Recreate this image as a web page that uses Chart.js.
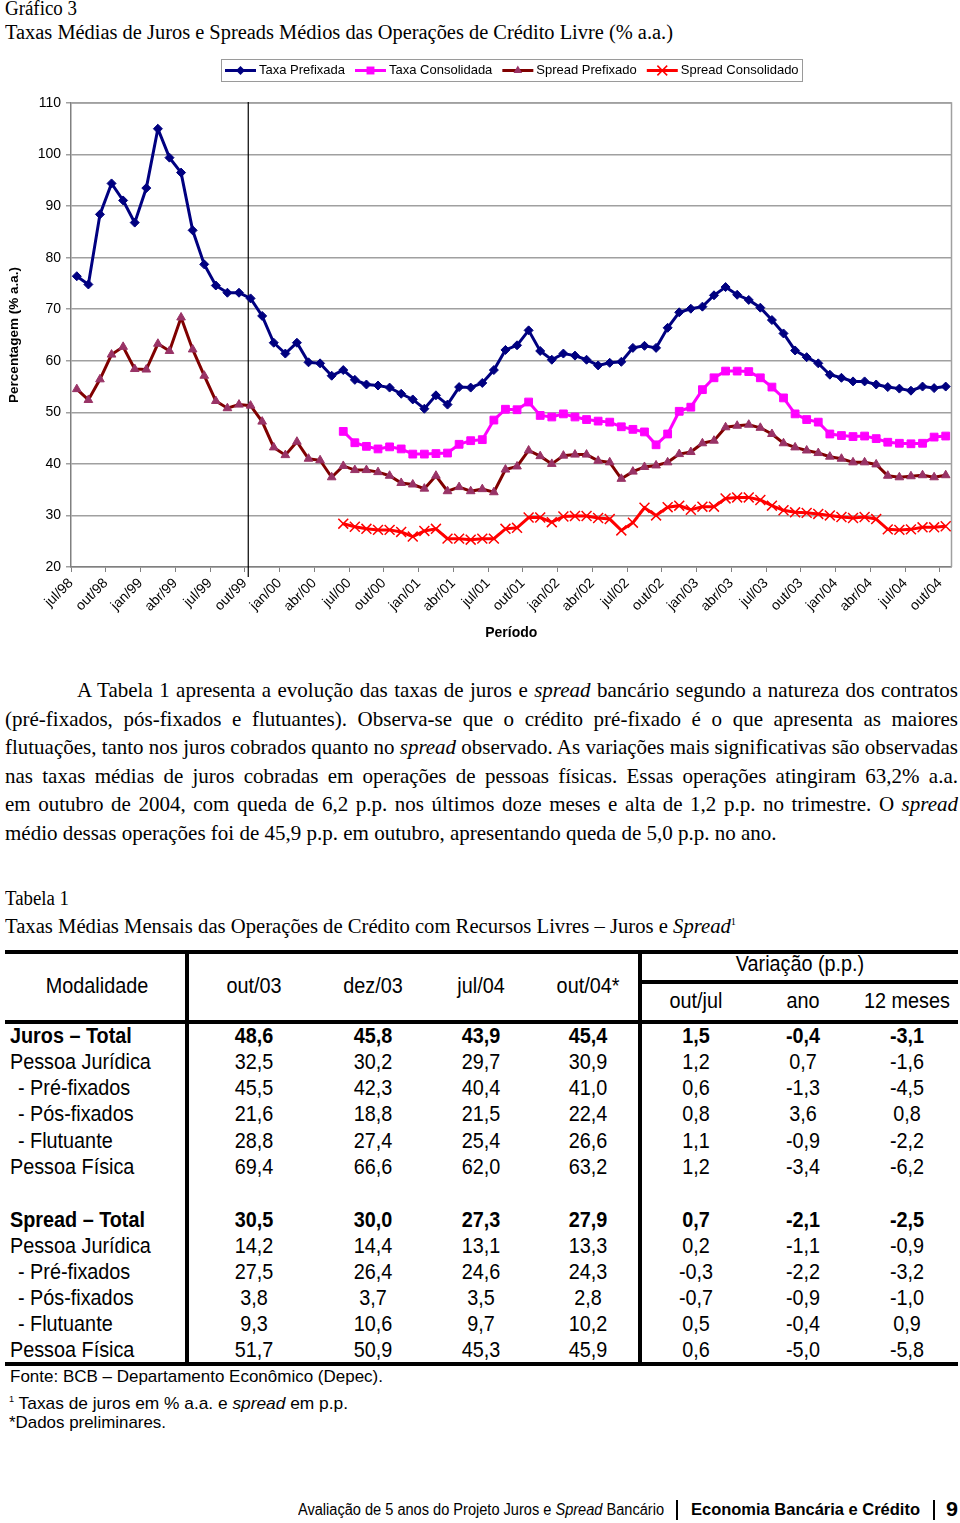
<!DOCTYPE html>
<html><head><meta charset="utf-8">
<script src="https://cdn.jsdelivr.net/npm/chart.js@4"></script>
<style>
body{margin:0;background:#fff;}
#page{position:relative;width:960px;height:1523px;overflow:hidden;font-family:"Liberation Sans",Arial,sans-serif;color:#000;background:#fff}
.t{position:absolute;white-space:nowrap;line-height:24px;height:24px;}
.fit{transform-origin:0 50%;}
.serif{font-family:"Liberation Serif","Times New Roman",serif;}
.ln{position:absolute;background:#000;}
.c{transform:translateX(-50%) scaleX(0.9);text-align:center;}
.l{transform:scaleX(0.9);transform-origin:0 50%;}
.b{font-weight:bold;}
#chartWrap{position:absolute;left:0;top:40px;width:960px;height:620px;}
.jl{position:absolute;white-space:nowrap;font-family:"Liberation Serif","Times New Roman",serif;font-size:21px;line-height:24px;transform-origin:0 50%;}
</style>
</head><body><div id="page">

<div class="t serif fit" data-w="72" style="left:5px;top:-4px;font-size:20px;">Gráfico 3</div>
<div class="t serif fit" data-w="668" style="left:5px;top:20px;font-size:20px;">Taxas Médias de Juros e Spreads Médios das Operações de Crédito Livre (% a.a.)</div>

<div id="chartWrap"><canvas id="c" width="960" height="620"></canvas></div>

<div class="t serif fit" data-w="64" style="left:5px;top:886px;font-size:20px;">Tabela 1</div>
<div class="t serif fit" data-w="731" style="left:5px;top:910px;font-size:20px;">Taxas Médias Mensais das Operações de Crédito com Recursos Livres – Juros e <i>Spread</i><sup style="font-size:10px;">1</sup></div>

<div class="t fit" data-w="373" style="left:10px;top:1365px;font-size:17px;">Fonte: BCB – Departamento Econômico (Depec).</div>
<div class="t fit" data-w="339" style="left:9px;top:1387px;font-size:17px;"><sup style="font-size:9px;">1</sup> Taxas de juros em % a.a. e <i>spread</i> em p.p.</div>
<div class="t fit" data-w="157" style="left:9px;top:1411px;font-size:17px;">*Dados preliminares.</div>

<div class="t fit" data-w="366" style="left:298px;top:1498px;font-size:16px;">Avaliação de 5 anos do Projeto Juros e <i>Spread</i> Bancário</div>
<div class="ln" style="left:676px;top:1500px;width:1.5px;height:20px;"></div>
<div class="t fit b" data-w="229" style="left:691px;top:1498px;font-size:16px;">Economia Bancária e Crédito</div>
<div class="ln" style="left:933px;top:1500px;width:1.5px;height:20px;"></div>
<div class="t fit b" data-w="12" style="left:946px;top:1497px;font-size:21px;">9</div>

</div>
<script>
// ---------------- DATA ----------------
const tickLabels = ['jul/98','out/98','jan/99','abr/99','jul/99','out/99','jan/00','abr/00','jul/00','out/00','jan/01','abr/01','jul/01','out/01','jan/02','abr/02','jul/02','out/02','jan/03','abr/03','jul/03','out/03','jan/04','abr/04','jul/04','out/04'];

const taxaPrefixada = [76.4,74.8,88.4,94.4,91.1,86.8,93.5,105.0,99.4,96.5,85.3,78.7,
  74.6,73.2,73.2,72.1,68.7,63.5,61.4,63.5,59.7,59.5,57.1,58.2,
  56.3,55.4,55.2,54.8,53.6,52.5,50.7,53.3,51.5,54.9,54.8,55.7,
  58.2,62.1,63.0,65.9,61.9,60.2,61.4,61.0,60.2,59.1,59.6,59.8,
  62.5,62.9,62.5,66.4,69.4,70.1,70.5,72.7,74.3,72.8,71.8,70.3,
  67.9,65.3,62.0,60.7,59.5,57.3,56.7,56.0,56.0,55.4,54.9,54.6,
  54.2,55.0,54.7,55.0];

const taxaConsolidada = [null,null,null,null,null,null,null,null,null,null,null,null,
  null,null,null,null,null,null,null,null,null,null,null,46.3,
  44.1,43.4,42.9,43.3,42.9,41.9,41.9,42.0,42.1,43.8,44.5,44.7,
  48.5,50.6,50.5,52.0,49.4,49.1,49.7,49.1,48.6,48.3,48.1,47.2,
  46.7,46.2,43.7,45.8,50.2,51.0,54.4,56.7,58.0,58.0,57.9,56.7,
  54.9,52.8,49.7,48.6,48.1,45.8,45.5,45.3,45.4,44.9,44.2,44.0,
  43.9,44.0,45.2,45.4];

const spreadPrefixado = [54.5,52.4,56.4,61.2,62.7,58.4,58.3,63.3,61.9,68.4,62.2,57.1,
  52.2,50.8,51.5,51.3,48.2,43.2,41.7,44.3,41.0,40.7,37.4,39.6,
  38.8,38.8,38.4,37.7,36.3,36.0,35.2,37.7,34.7,35.5,34.7,35.1,
  34.5,38.9,39.5,42.6,41.5,40.0,41.6,41.8,41.8,40.6,40.3,37.1,
  38.5,39.4,39.7,40.3,41.9,42.3,44.0,44.5,47.1,47.4,47.6,47.0,
  45.8,44.0,43.2,42.6,42.1,41.4,41.0,40.3,40.3,39.9,37.7,37.4,
  37.6,37.8,37.4,37.8];

const spreadConsolidado = [null,null,null,null,null,null,null,null,null,null,null,null,
  null,null,null,null,null,null,null,null,null,null,null,28.4,
  27.8,27.4,27.2,27.2,26.8,25.9,27.0,27.4,25.5,25.5,25.3,25.5,
  25.5,27.4,27.6,29.6,29.6,28.7,29.8,29.9,29.9,29.5,29.3,27.1,
  28.6,31.5,30.0,31.6,31.9,31.1,31.7,31.7,33.3,33.5,33.5,33.0,
  31.9,31.0,30.6,30.5,30.3,30.0,29.7,29.5,29.7,29.3,27.3,27.2,
  27.3,27.7,27.7,27.9];

const seriesNames = ['Taxa Prefixada','Taxa Consolidada','Spread Prefixado','Spread Consolidado'];
const dividerMonth = 15.3; // marcador vertical (out/99)

// paragraph
const paraLines = [
  'A Tabela 1 apresenta a evolução das taxas de juros e <i>spread</i> bancário segundo a natureza dos contratos',
  '(pré-fixados, pós-fixados e flutuantes). Observa-se que o crédito pré-fixado é o que apresenta as maiores',
  'flutuações, tanto nos juros cobrados quanto no <i>spread</i> observado. As variações mais significativas são observadas',
  'nas taxas médias de juros cobradas em operações de pessoas físicas. Essas operações atingiram 63,2% a.a.',
  'em outubro de 2004, com queda de 6,2 p.p. nos últimos doze meses e alta de 1,2 p.p. no trimestre. O <i>spread</i>',
  'médio dessas operações foi de 45,9 p.p. em outubro, apresentando queda de 5,0 p.p. no ano.'
];

// table
const tableCols = ['out/03','dez/03','jul/04','out/04*'];
const tableVarCols = ['out/jul','ano','12 meses'];
const tableRowNames = ['Juros – Total','Pessoa Jurídica',' - Pré-fixados',' - Pós-fixados',' - Flutuante','Pessoa Física',
  'Spread – Total','Pessoa Jurídica',' - Pré-fixados',' - Pós-fixados',' - Flutuante','Pessoa Física'];
const tableValues = [
  ['48,6','45,8','43,9','45,4','1,5','-0,4','-3,1'],
  ['32,5','30,2','29,7','30,9','1,2','0,7','-1,6'],
  ['45,5','42,3','40,4','41,0','0,6','-1,3','-4,5'],
  ['21,6','18,8','21,5','22,4','0,8','3,6','0,8'],
  ['28,8','27,4','25,4','26,6','1,1','-0,9','-2,2'],
  ['69,4','66,6','62,0','63,2','1,2','-3,4','-6,2'],
  ['30,5','30,0','27,3','27,9','0,7','-2,1','-2,5'],
  ['14,2','14,4','13,1','13,3','0,2','-1,1','-0,9'],
  ['27,5','26,4','24,6','24,3','-0,3','-2,2','-3,2'],
  ['3,8','3,7','3,5','2,8','-0,7','-0,9','-1,0'],
  ['9,3','10,6','9,7','10,2','0,5','-0,4','0,9'],
  ['51,7','50,9','45,3','45,9','0,6','-5,0','-5,8']
];

// ---------------- PAGE TEXT ----------------
const page = document.getElementById('page');
function addDiv(html, cls, style){ const d=document.createElement('div'); d.className=cls; d.innerHTML=html; Object.assign(d.style, style); page.appendChild(d); return d; }

const paraY = [690,719,747,776,804,833];
paraLines.forEach((txt,i)=>{
  const left = i===0 ? 77 : 5;
  const d = addDiv('<span>'+txt+'</span>','jl',{left:left+'px',top:(paraY[i]-12)+'px'});
  d.dataset.just = (i<paraLines.length-1) ? String(958-left) : '';
});

// table lines
function line(x,y,w,h){ addDiv('','ln',{left:x+'px',top:y+'px',width:w+'px',height:h+'px'}); }
line(5,950,953,4); line(640,980,318,4); line(5,1020,953,4); line(5,1362,953,4);
line(185,950,3.5,416); line(638,950,3.5,416);

const colX = [254,373,481,588,696,803,907];
function cell(txt,x,y,bold,center){
  const st = {top:(y-12)+'px',left:x+'px',fontSize:'22px'};
  return addDiv(txt,'t'+(center?' c':' l')+(bold?' b':''),st);
}
cell('Modalidade',97,986,false,true);
tableCols.forEach((c,i)=>cell(c,colX[i],986,false,true));
cell('Variação (p.p.)',800,964,false,true);
tableVarCols.forEach((c,i)=>cell(c,colX[4+i],1001,false,true));
const rowY = [1036,1062,1088,1114,1141,1167,1220,1246,1272,1298,1324,1350];
tableRowNames.forEach((n,r)=>{
  const bold = (r===0||r===6);
  const indent = n.startsWith(' ');
  cell(n.trim(), indent?18:10, rowY[r], bold, false);
  tableValues[r].forEach((v,k)=>cell(v,colX[k],rowY[r],bold,true));
});

// fitting
document.querySelectorAll('.fit').forEach(el=>{
  el.style.display='inline-block';
  const w = el.getBoundingClientRect().width;
  const W = parseFloat(el.dataset.w);
  if (w>0) el.style.transform = 'scaleX('+(W/w)+')';
});
document.querySelectorAll('.jl').forEach(el=>{
  const W = parseFloat(el.dataset.just||'0');
  if(!W) return;
  const span = el.firstChild;
  const w = span.getBoundingClientRect().width;
  const n = (span.textContent.match(/ /g)||[]).length;
  if (w < W) { el.style.wordSpacing = ((W-w)/n)+'px'; }
  else { el.style.transform = 'scaleX('+(W/w)+')'; }
});

// ---------------- CHART ----------------
const toPts = arr => arr.map((v,i)=>({x:i+0.5,y:v})).filter(p=>p.y!==null);

const styles = [
  {line:'#000080', fill:'#000080', pt:'rectRot', r:4.5},
  {line:'#FF00FF', fill:'#FF00FF', pt:'rect', r:5.5},
  {line:'#800000', fill:'#993366', pt:'triangle', r:5},
  {line:'#FF0000', fill:'#FF0000', pt:'crossRot', r:7}
];
const seriesData = [taxaPrefixada, taxaConsolidada, spreadPrefixado, spreadConsolidado];

const datasets = seriesData.map((arr,k)=>({
  label: seriesNames[k],
  data: toPts(arr),
  borderColor: styles[k].line,
  backgroundColor: styles[k].fill,
  borderWidth: 3,
  tension: 0,
  pointStyle: styles[k].pt,
  pointRadius: styles[k].r,
  pointBackgroundColor: styles[k].fill,
  pointBorderColor: k===3 ? '#FF0000' : styles[k].fill,
  pointBorderWidth: k===3 ? 1.5 : 1,
  order: 4-k
}));

function drawMarker(ctx, style, x, y, r, fill){
  ctx.beginPath();
  if(style==='rectRot'){ctx.moveTo(x,y-r);ctx.lineTo(x+r,y);ctx.lineTo(x,y+r);ctx.lineTo(x-r,y);ctx.closePath();ctx.fillStyle=fill;ctx.fill();}
  else if(style==='rect'){const s=r*0.72;ctx.rect(x-s,y-s,2*s,2*s);ctx.fillStyle=fill;ctx.fill();}
  else if(style==='triangle'){ctx.moveTo(x,y-r);ctx.lineTo(x+r*0.87,y+r*0.5);ctx.lineTo(x-r*0.87,y+r*0.5);ctx.closePath();ctx.fillStyle=fill;ctx.fill();}
  else {const s=r*0.7;ctx.moveTo(x-s,y-s);ctx.lineTo(x+s,y+s);ctx.moveTo(x+s,y-s);ctx.lineTo(x-s,y+s);ctx.strokeStyle=fill;ctx.lineWidth=1.5;ctx.stroke();}
}

const framePlugin = {
  id:'frame',
  beforeDatasetsDraw(chart){
    const {ctx, chartArea:a, scales} = chart;
    ctx.save();
    ctx.strokeStyle='#a0a0a0'; ctx.lineWidth=1.5;
    ctx.beginPath(); ctx.moveTo(a.left,a.top); ctx.lineTo(a.right,a.top); ctx.lineTo(a.right,a.bottom); ctx.stroke();
    const x = scales.x.getPixelForValue(dividerMonth);
    ctx.strokeStyle='#000'; ctx.lineWidth=1.2;
    ctx.beginPath(); ctx.moveTo(x,a.top-1); ctx.lineTo(x,a.bottom+10); ctx.stroke();
    ctx.restore();
  },
  afterDraw(chart){
    const ctx = chart.ctx;
    const ds = chart.data.datasets;
    ctx.save();
    ctx.font = '13px "Liberation Sans", Arial, sans-serif';
    const iconW=33, gapT=2, gapI=9, padX=3;
    const widths = ds.map(d=>ctx.measureText(d.label).width);
    const total = padX*2 + widths.reduce((s,w)=>s+iconW+gapT+w,0) + gapI*(ds.length-1);
    const cx = (chart.chartArea.left+chart.chartArea.right)/2;
    let x = Math.round(cx-total/2);
    const top=19, h=22, ym=top+h/2+0.5;
    ctx.strokeStyle='#9a9a9a'; ctx.lineWidth=1;
    ctx.strokeRect(x+0.5, top+0.5, Math.round(total), h);
    x += padX;
    ds.forEach((d,k)=>{
      ctx.strokeStyle=styles[k].line; ctx.lineWidth=3;
      ctx.beginPath(); ctx.moveTo(x+1,ym); ctx.lineTo(x+iconW-1,ym); ctx.stroke();
      drawMarker(ctx, styles[k].pt, x+iconW/2, ym, styles[k].r, styles[k].fill);
      x += iconW+gapT;
      ctx.fillStyle='#000'; ctx.textBaseline='middle'; ctx.textAlign='left';
      ctx.fillText(d.label, x, ym);
      x += widths[k]+gapI;
    });
    ctx.restore();
  }
};

Chart.defaults.font.family = '"Liberation Sans", Arial, sans-serif';
Chart.defaults.color = '#000';

new Chart(document.getElementById('c'), {
  type:'line',
  data:{datasets},
  options:{
    responsive:false, animation:false, devicePixelRatio:1,
    layout:{padding:{top:63,right:7,left:0,bottom:0}},
    plugins:{legend:{display:false}, tooltip:{enabled:false}},
    scales:{
      x:{
        type:'linear', min:0, max:76,
        afterBuildTicks(scale){ scale.ticks = tickLabels.map((_,k)=>({value:k*3})); },
        afterFit(scale){ scale.height = 93; },
        ticks:{autoSkip:false, minRotation:45, maxRotation:45, padding:3, font:{size:14},
          callback(v){ const k=Math.round(v/3); return tickLabels[k]||''; }},
        grid:{drawOnChartArea:false, tickLength:5, color:'#808080', lineWidth:1},
        border:{color:'#808080', width:1.5},
        title:{display:true, text:'Período', font:{size:14, weight:'bold'}, padding:{top:4,bottom:18}}
      },
      y:{
        min:20, max:110,
        afterFit(scale){ scale.width = 71; },
        ticks:{stepSize:10, padding:5, font:{size:14}},
        grid:{color:'#a0a0a0', lineWidth:1.5, tickLength:5},
        border:{color:'#808080', width:1.5},
        title:{display:true, text:'Percentagem (% a.a.)', font:{size:13.5, weight:'bold'}, padding:{top:6,bottom:0}}
      }
    }
  },
  plugins:[framePlugin]
});
</script>
</body></html>
